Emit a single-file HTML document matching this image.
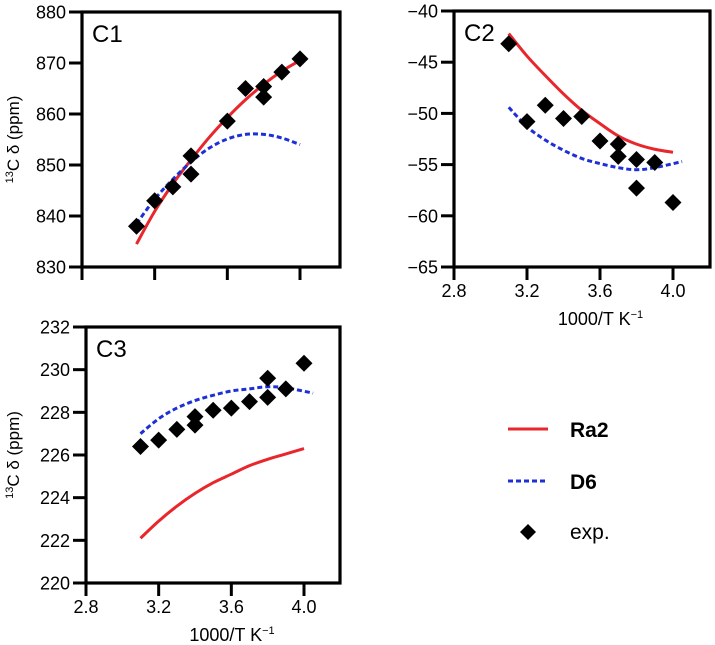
<!DOCTYPE html>
<html><head><meta charset="utf-8"><style>
html,body{margin:0;padding:0;background:#fff}
svg{display:block}
text{font-family:"Liberation Sans",Arial,sans-serif;fill:#000}
</style></head><body>
<svg id="chart" width="715" height="645" viewBox="0 0 715 645"></svg>
<script>
// ---- data ----
const xTicks = [2.8, 3.2, 3.6, 4.0];
const xTickLabels = ["2.8", "3.2", "3.6", "4.0"];

const c1Ticks = [830, 840, 850, 860, 870, 880];
const c1ExpX = [3.1, 3.2, 3.3, 3.4, 3.4, 3.6, 3.7, 3.8, 3.8, 3.9, 4.0];
const c1ExpY = [838, 843, 845.7, 851.8, 848.2, 858.6, 865, 865.4, 863.3, 868.2, 870.8];
const c1Ra2X = [3.1, 3.2, 3.3, 3.4, 3.5, 3.6, 3.7, 3.8, 3.9, 4.0];
const c1Ra2Y = [834.5, 840.9, 846.3, 851.0, 855.4, 859.3, 862.8, 865.8, 868.4, 870.5];
const c1D6X = [3.1, 3.2, 3.3, 3.4, 3.5, 3.6, 3.7, 3.8, 3.9, 4.0];
const c1D6Y = [838.5, 843.3, 847.2, 850.6, 853.3, 855.1, 856.0, 856.0, 855.3, 854.0];

const c2Ticks = [-65, -60, -55, -50, -45, -40];
const c2ExpX = [3.1, 3.2, 3.3, 3.4, 3.5, 3.6, 3.7, 3.7, 3.8, 3.8, 3.9, 4.0];
const c2ExpY = [-43.2, -50.8, -49.2, -50.5, -50.3, -52.7, -53, -54.2, -54.5, -57.3, -54.8, -58.7];
const c2Ra2X = [3.1, 3.2, 3.3, 3.4, 3.5, 3.6, 3.7, 3.8, 3.9, 4.0];
const c2Ra2Y = [-42.2, -44.4, -46.3, -48.1, -49.7, -51.0, -52.2, -53.0, -53.5, -53.8];
const c2D6X = [3.1, 3.2, 3.3, 3.4, 3.5, 3.6, 3.7, 3.8, 3.9, 4.05];
const c2D6Y = [-49.4, -51.3, -52.6, -53.6, -54.4, -54.9, -55.3, -55.5, -55.3, -54.7];

const c3Ticks = [220, 222, 224, 226, 228, 230, 232];
const c3ExpX = [3.1, 3.2, 3.3, 3.4, 3.4, 3.5, 3.6, 3.7, 3.8, 3.8, 3.9, 4.0];
const c3ExpY = [226.4, 226.7, 227.2, 227.8, 227.4, 228.1, 228.2, 228.5, 229.6, 228.7, 229.1, 230.3];
const c3Ra2X = [3.1, 3.2, 3.3, 3.4, 3.5, 3.6, 3.7, 3.8, 3.9, 4.0];
const c3Ra2Y = [222.1, 222.9, 223.6, 224.2, 224.7, 225.1, 225.5, 225.8, 226.05, 226.3];
const c3D6X = [3.1, 3.2, 3.3, 3.4, 3.5, 3.6, 3.7, 3.8, 3.9, 4.05];
const c3D6Y = [227.0, 227.7, 228.2, 228.55, 228.8, 229.0, 229.1, 229.2, 229.15, 228.9];

// ---- drawing ----
const svg = document.getElementById('chart');
const NS = 'http://www.w3.org/2000/svg';
function mk(tag, attrs, parent) {
  const e = document.createElementNS(NS, tag);
  for (const k in attrs) e.setAttribute(k, attrs[k]);
  (parent || svg).appendChild(e);
  return e;
}
function smoothPath(pts) {
  let d = 'M' + pts[0][0] + ',' + pts[0][1];
  for (let i = 0; i < pts.length - 1; i++) {
    const p0 = pts[Math.max(0, i - 1)], p1 = pts[i], p2 = pts[i + 1], p3 = pts[Math.min(pts.length - 1, i + 2)];
    const c1x = p1[0] + (p2[0] - p0[0]) / 6, c1y = p1[1] + (p2[1] - p0[1]) / 6;
    const c2x = p2[0] - (p3[0] - p1[0]) / 6, c2y = p2[1] - (p3[1] - p1[1]) / 6;
    d += ' C' + c1x + ',' + c1y + ' ' + c2x + ',' + c2y + ' ' + p2[0] + ',' + p2[1];
  }
  return d;
}

function panel(o) {
  const g = mk('g', {});
  
  
  const xs = v => o.x28 + (v - 2.8) / 1.2 * (o.x40 - o.x28);
  const ys = v => o.bottom - (v - o.ymin) / (o.ymax - o.ymin) * (o.bottom - o.top);
  const fr = mk('rect', {x: o.left, y: o.top, width: o.right - o.left, height: o.bottom - o.top, fill: 'none', stroke: '#000', 'stroke-width': 3.2}, g);
  
  
  o.yticks.forEach(t => {
    const y = ys(t);
    const l = mk('line', {x1: o.left - 13, x2: o.left, y1: y, y2: y, stroke: '#000', 'stroke-width': 3}, g);
    
    
    const tx = mk('text', {x: o.left - 16, y: y + 6.5, 'text-anchor': 'end', 'font-size': 18}, g);
    tx.textContent = (t < 0 ? '\u2212' + Math.abs(t) : String(t));
    
    
  });
  xTicks.forEach((t, i) => {
    const x = xs(t);
    const l = mk('line', {x1: x, x2: x, y1: o.bottom, y2: o.bottom + 13, stroke: '#000', 'stroke-width': 3}, g);
    
    
    if (o.xlabels) {
      const tx = mk('text', {x: x, y: o.bottom + 30, 'text-anchor': 'middle', 'font-size': 18}, g);
      tx.textContent = xTickLabels[i];
      
      
    }
  });
  if (o.xlabels) {
    const xt = mk('text', {x: (o.x28 + o.x40) / 2 + 37, y: o.bottom + 58, 'text-anchor': 'middle', 'font-size': 18}, g);
    xt.innerHTML = '1000/T K<tspan font-size="11" dy="-7">\u22121</tspan>';
    
    
  }
  if (o.ytitle) {
    const cy = (o.top + o.bottom) / 2;
    const yt = mk('text', {x: 0, y: 0, transform: 'translate(19,' + cy + ') rotate(-90)', 'text-anchor': 'middle', 'font-size': 17}, g);
    yt.innerHTML = '<tspan font-size="11" dy="-6">13</tspan><tspan dy="6">C \u03b4 (ppm)</tspan>';
    
    
  }
  const lab = mk('text', {x: o.left + 10, y: o.top + 30, 'font-size': 24}, g);
  lab.textContent = o.label;
  
  
  const ra = mk('path', {d: smoothPath(o.raX.map((v, i) => [xs(v), ys(o.raY[i])])), fill: 'none', stroke: '#e8262b', 'stroke-width': 3}, g);
  
  
  const d6 = mk('path', {d: smoothPath(o.d6X.map((v, i) => [xs(v), ys(o.d6Y[i])])), fill: 'none', stroke: '#1d2fd6', 'stroke-width': 3, 'stroke-dasharray': '5,3'}, g);
  
  
  o.expX.forEach((v, i) => {
    const x = xs(v), y = ys(o.expY[i]);
    const p = mk('polygon', {points: [x, y - 8.5, x + 8.5, y, x, y + 8.5, x - 8.5, y].join(','), fill: '#000'}, g);
    
    
  });
}

panel({name: 'panel-c1', label: 'C1', left: 82, right: 340, top: 12, bottom: 267, x28: 82, x40: 300,
  ymin: 830, ymax: 880, yticks: c1Ticks, xlabels: false, ytitle: true,
  expX: c1ExpX, expY: c1ExpY, raX: c1Ra2X, raY: c1Ra2Y, d6X: c1D6X, d6Y: c1D6Y});
panel({name: 'panel-c2', label: 'C2', left: 454, right: 710, top: 11, bottom: 267, x28: 454, x40: 673,
  ymin: -65, ymax: -40, yticks: c2Ticks, xlabels: true, ytitle: false,
  expX: c2ExpX, expY: c2ExpY, raX: c2Ra2X, raY: c2Ra2Y, d6X: c2D6X, d6Y: c2D6Y});
panel({name: 'panel-c3', label: 'C3', left: 86, right: 340, top: 327, bottom: 583, x28: 86, x40: 304,
  ymin: 220, ymax: 232, yticks: c3Ticks, xlabels: true, ytitle: true,
  expX: c3ExpX, expY: c3ExpY, raX: c3Ra2X, raY: c3Ra2Y, d6X: c3D6X, d6Y: c3D6Y});

const lg = mk('g', {});


const l1 = mk('line', {x1: 508, x2: 548, y1: 429, y2: 429, stroke: '#e8262b', 'stroke-width': 3}, lg);


const t1 = mk('text', {x: 570, y: 437, 'font-size': 21, 'font-weight': 'bold'}, lg);
t1.textContent = 'Ra2';


const l2 = mk('line', {x1: 508, x2: 548, y1: 481, y2: 481, stroke: '#1d2fd6', 'stroke-width': 3, 'stroke-dasharray': '5,3'}, lg);


const t2 = mk('text', {x: 570, y: 489, 'font-size': 21, 'font-weight': 'bold'}, lg);
t2.textContent = 'D6';


const d3 = mk('polygon', {points: '528,524 536,532 528,540 520,532', fill: '#000'}, lg);


const t3 = mk('text', {x: 570, y: 539, 'font-size': 21}, lg);
t3.textContent = 'exp.';


</script>
</body></html>
